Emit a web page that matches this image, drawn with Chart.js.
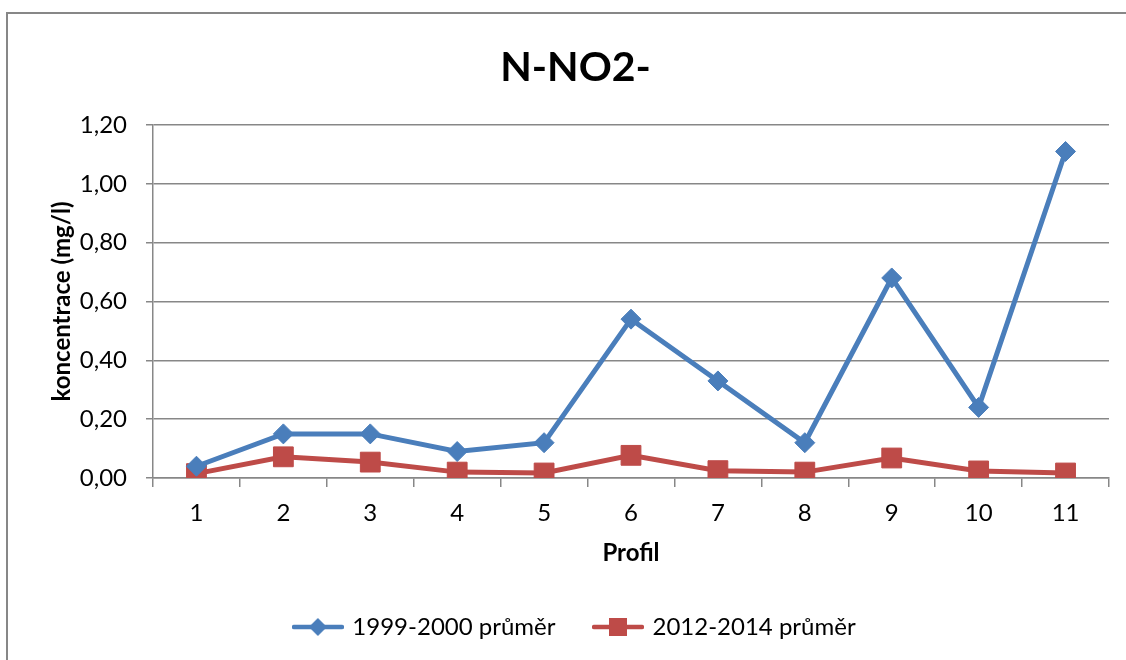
<!DOCTYPE html>
<html lang="cs">
<head>
<meta charset="utf-8">
<title>N-NO2-</title>
<script src="https://cdn.jsdelivr.net/npm/chart.js@4.4.1/dist/chart.umd.min.js"></script>
<style>
  html, body { margin: 0; padding: 0; background: #fff; overflow: hidden; }
  #wrap { position: relative; width: 1126px; height: 660px; }
  #frame { position: absolute; left: 6px; top: 12px; width: 2000px; height: 2000px;
           border: 2px solid #878787; pointer-events: none; box-sizing: border-box; }
  canvas { position: absolute; left: 0; top: 0; }
</style>
</head>
<body>
<div id="wrap">
  <canvas id="chart" width="1126" height="660"></canvas>
  <div id="frame"></div>
</div>
<script>
// Profile numbers along the x axis
const profiles = ['1', '2', '3', '4', '5', '6', '7', '8', '9', '10', '11'];

// Mean N-NO2- concentration (mg/l) per profile
const mean1999_2000 = [0.04, 0.15, 0.15, 0.09, 0.12, 0.54, 0.33, 0.12, 0.68, 0.24, 1.11];
const mean2012_2014 = [0.015, 0.072, 0.054, 0.020, 0.017, 0.077, 0.025, 0.020, 0.068, 0.024, 0.017];

const seriesNames = ['1999-2000 průměr', '2012-2014 průměr'];
const yTicks = [0, 0.2, 0.4, 0.6, 0.8, 1.0, 1.2];

const BLUE = '#4A7EBB';
const RED = '#BE4B48';
const GRID = '#878787';
const FONT = 'Lato';

// Legend swatch: a short line with the series marker in the middle
function swatch(color, marker) {
  const c = document.createElement('canvas');
  c.width = 52; c.height = 22;
  const g = c.getContext('2d');
  g.strokeStyle = color; g.lineWidth = 4.5; g.lineCap = 'round';
  g.beginPath(); g.moveTo(2, 11); g.lineTo(50, 11); g.stroke();
  g.fillStyle = color;
  g.beginPath();
  if (marker === 'diamond') {
    g.moveTo(26, 2); g.lineTo(35, 11); g.lineTo(26, 20); g.lineTo(17, 11);
  } else {
    g.rect(17, 2, 18, 18);
  }
  g.closePath(); g.fill();
  return c;
}
const legendImages = [swatch(BLUE, 'diamond'), swatch(RED, 'square')];

const fmt = v => Number(v).toFixed(2).replace('.', ',');

new Chart(document.getElementById('chart'), {
  type: 'line',
  data: {
    labels: profiles,
    datasets: [
      {
        label: seriesNames[0],
        data: mean1999_2000,
        borderColor: BLUE,
        backgroundColor: BLUE,
        borderWidth: 5,
        pointStyle: 'rectRot',
        pointRadius: 10,
        pointHoverRadius: 10,
        pointBorderWidth: 1,
        tension: 0
      },
      {
        label: seriesNames[1],
        data: mean2012_2014,
        borderColor: RED,
        backgroundColor: RED,
        borderWidth: 5,
        pointStyle: 'rect',
        pointRadius: 14,
        pointHoverRadius: 14,
        pointBorderWidth: 1,
        tension: 0
      }
    ]
  },
  options: {
    responsive: false,
    animation: false,
    events: [],
    layout: { padding: { left: 8, right: -17, top: 0, bottom: 11 } },
    scales: {
      x: {
        type: 'category',
        offset: true,
        grid: { offset: true, drawOnChartArea: false, drawTicks: true, tickLength: 9, color: GRID, lineWidth: 1.5 },
        border: { display: true, color: GRID, width: 1.5 },
        ticks: { color: '#000', padding: 11.6, font: { family: FONT, size: 24 } },
        title: { display: true, text: 'Profil', color: '#000',
                 font: { family: FONT, size: 24, weight: 'bold' }, padding: { top: 0, bottom: 7.6 } },
        afterFit: s => { s.height = 97; }
      },
      y: {
        min: 0, max: 1.2,
        afterBuildTicks: s => { s.ticks = yTicks.map(v => ({ value: v })); },
        grid: { color: GRID, lineWidth: 1.5, tickLength: 7 },
        border: { display: true, color: GRID, width: 1.5 },
        ticks: { color: '#000', padding: 19, font: { family: FONT, size: 24 }, callback: v => fmt(v) },
        title: { display: true, text: 'koncentrace (mg/l)', color: '#000',
                 font: { family: FONT, size: 24, weight: 'bold' }, padding: { top: 39.6, bottom: 0 } },
        afterFit: s => { s.width = 145; }
      },
      yRight: {
        position: 'right',
        display: true,
        grid: { display: false },
        border: { display: false },
        ticks: { display: false },
        afterFit: s => { s.width = 34; }
      }
    },
    plugins: {
      title: {
        display: true,
        text: 'N-NO2-',
        color: '#000',
        font: { family: FONT, size: 41, weight: 'bold' },
        padding: { top: 43.4, bottom: 32.4 }
      },
      legend: {
        position: 'bottom',
        labels: {
          usePointStyle: true,
          pointStyleWidth: 45,
          padding: 40,
          color: '#000',
          font: { family: FONT, size: 24 },
          generateLabels: chart => {
            const items = Chart.defaults.plugins.legend.labels.generateLabels(chart);
            items.forEach((it, i) => { it.pointStyle = legendImages[i]; });
            return items;
          }
        }
      },
      tooltip: { enabled: false }
    }
  }
});
</script>
</body>
</html>
